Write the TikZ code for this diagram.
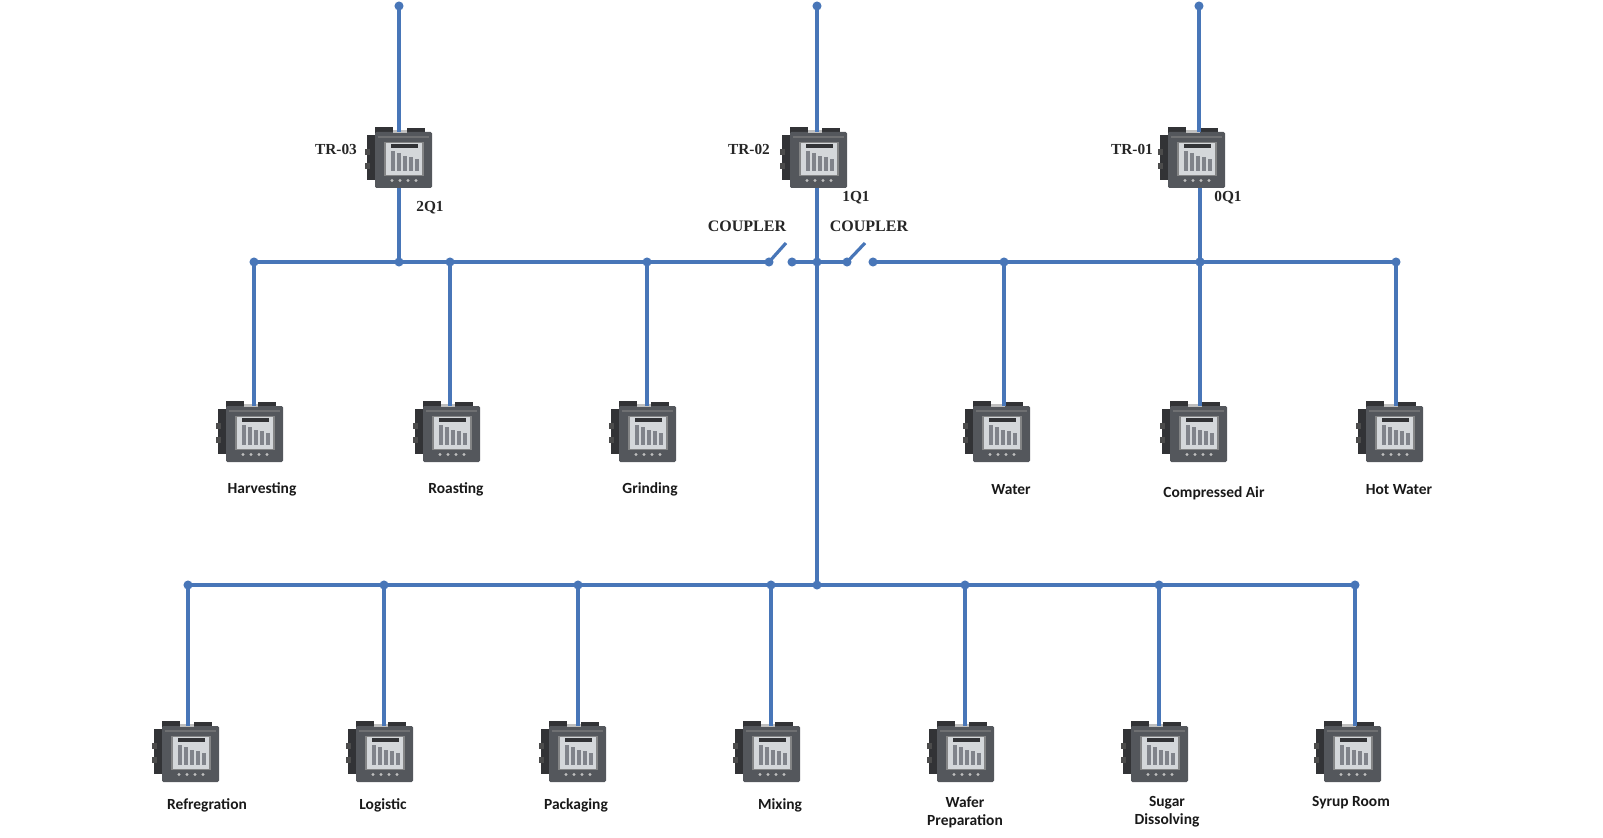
\documentclass[tikz,border=0pt]{standalone}
\usepackage{fontspec}
\setmainfont{Liberation Serif}
\newfontfamily\loadfont{Carlito}
\usepackage{xcolor}
\usetikzlibrary{positioning,calc}
\definecolor{busblue}{RGB}{72,118,184}
\definecolor{meterbody}{RGB}{84,87,92}
\definecolor{meterdark}{RGB}{50,51,54}
\definecolor{meterscreen}{RGB}{212,215,218}
\definecolor{meterbar}{RGB}{128,131,138}
\tikzset{
    busline/.style={line width=2.3pt, busblue},
    feedline/.style={line width=2.4pt, busblue},
    busdot/.style={circle, fill=busblue, inner sep=0pt, outer sep=0pt, minimum size=6.8pt},
    trlabel/.style={font=\bfseries\fontsize{11.5}{13}\selectfont, inner sep=0pt, text=black!85},
    cpllabel/.style={trlabel, font=\bfseries\fontsize{12}{13}\selectfont},
    loadlabel/.style={font=\loadfont\bfseries\fontsize{11.6}{13.5}\selectfont, inner sep=0pt, align=center, text=black!90},
    meterbox/.style={draw=none, fill=meterbody, rounded corners=1pt, minimum width=42.75pt, minimum height=42pt, inner sep=0pt},
    meter/.pic={
        % side terminals and top plugs
        \fill[meterdark] (-32,-22) rectangle (-22,23);
        \fill[meterdark] (-24,-30) rectangle (-6,-23);
        \fill[meterdark] (8,-29) rectangle (26,-23);
        \fill[black!70] (-34,-8) rectangle (-29,-2);
        \fill[black!70] (-34,6) rectangle (-29,12);
        % front plate
        \node[meterbox] (-body) at (4.5,3) {};
        \fill[black!25] (-6,-27) rectangle (8,-24);
        \fill[meterdark!70] (-21,-21) rectangle (30,-19);
        % screen with bars
        \fill[meterdark!60] (-15,-15) rectangle (25,19);
        \fill[meterscreen] (-13,-14) rectangle (23,18);
        \fill[meterdark] (-8,-13) rectangle (19,-9);
        \foreach \bx/\btop in {-6/-6, 0/-4, 6/-1, 12/0, 18/2} {
            \fill[meterbar] (\bx-2,\btop) rectangle (\bx+2,14);
        }
        % buttons
        \foreach \bx in {-7, 1, 9, 17} {
            \fill[black!25] (\bx,23.5) circle (1.6);
        }
    }
}

\begin{document}
\begin{tikzpicture}[x=0.75pt, y=-0.75pt]
    \useasboundingbox (0,0) rectangle (1603,838);

    % Incoming feeders and first bus junctions
    \foreach \name/\x/\jx in {a/399/399, b/817/817, c/1199/1200} {
        \node[busdot] (top\name) at (\x,6) {};
        \node[busdot] (j\name) at (\jx,262) {};
    }

    % Couplers
    \node[busdot] (swLa) at (769,262) {};
    \node[busdot] (swLb) at (792,262) {};
    \node[busdot] (swRa) at (847,262) {};
    \node[busdot] (swRb) at (873,262) {};
    \coordinate (tipL) at (786,243);
    \coordinate (tipR) at (865,243);

    % Upper row: dots, meters, drops
    \foreach \name/\dx/\mx in {harv/254/250, roast/450/447, grind/647/643, water/1004/997, air/1200/1194, hot/1396/1390} {
        \node[busdot] (d\name) at (\dx,262) {};
        \pic (\name) at (\mx,431) {meter};
        \draw[feedline] (d\name.center) -- (d\name |- \name-body.north);
    }

    % Lower row: dots, meters, drops
    \foreach \name/\dx/\mx in {refr/188/186, logi/384/380, pack/578/573, mix/771/767, wafer/965/961, sugar/1159/1155, syrup/1355/1348} {
        \node[busdot] (d\name) at (\dx,585) {};
        \pic (\name) at (\mx,751) {meter};
        \draw[feedline] (d\name.center) -- (d\name |- \name-body.north);
    }
    \node[busdot] (jlow) at (817,585) {};

    % Transformer meters
    \pic (tra) at (399,157) {meter};
    \pic (trb) at (814,157) {meter};
    \pic (trc) at (1192,157) {meter};
    \draw[feedline] (topa.center) -- (topa |- tra-body.north);
    \draw[feedline] (topb.center) -- (topb |- trb-body.north);
    \draw[feedline] (topc.center) -- (topc |- trc-body.north);
    \draw[feedline] (ja |- tra-body.south) -- (ja.center);
    \draw[feedline] (jb |- trb-body.south) -- (jb.center);
    \draw[feedline] (jc |- trc-body.south) -- (jc.center);

    % Bus bars
    \draw[busline] (dharv.center) -- (ja.center) -- (droast.center) -- (dgrind.center) -- (swLa.center);
    \draw[busline] (swLb.center) -- (jb.center) -- (swRa.center);
    \draw[busline] (swRb.center) -- (dwater.center) -- (jc.center) -- (dhot.center);
    \draw[busline] (drefr.center) -- (dlogi.center) -- (dpack.center) -- (dmix.center) -- (jlow.center) -- (dwafer.center) -- (dsugar.center) -- (dsyrup.center);
    \draw[feedline] (jb.center) -- (jlow.center);
    \draw[feedline] (swLa.center) -- (tipL);
    \draw[feedline] (swRa.center) -- (tipR);

    % Transformer and coupler labels
    \node[trlabel] (lbla) at (336,149) {TR-03};
    \node[trlabel] (lblb) at (749,149) {TR-02};
    \node[trlabel] (lblc) at (1132,149) {TR-01};
    \node[trlabel] (qa) at (430,208) {2Q1};
    \node[trlabel] (qb) at (856,198) {1Q1};
    \node[trlabel] (qc) at (1228,198) {0Q1};
    \node[cpllabel] (cplL) at (747,226) {COUPLER};
    \node[cpllabel] (cplR) at (869,226) {COUPLER};

    % Load labels
    \foreach \x/\y/\label in {262/489/Harvesting, 456/489/Roasting, 650/489/Grinding, 1011/490/Water, 1214/493/Compressed Air, 1399/490/Hot Water, 207/805/Refregration, 383/805/Logistic, 576/805/Packaging, 780/805/Mixing, 1351/803/Syrup Room} {
        \node[loadlabel] (load \label) at (\x,\y) {\label};
    }
    \node[loadlabel] (loadwafer) at (965,812) {Wafer\\Preparation};
    \node[loadlabel] (loadsugar) at (1167,812) {Sugar\\Dissolving};

\end{tikzpicture}
\end{document}
